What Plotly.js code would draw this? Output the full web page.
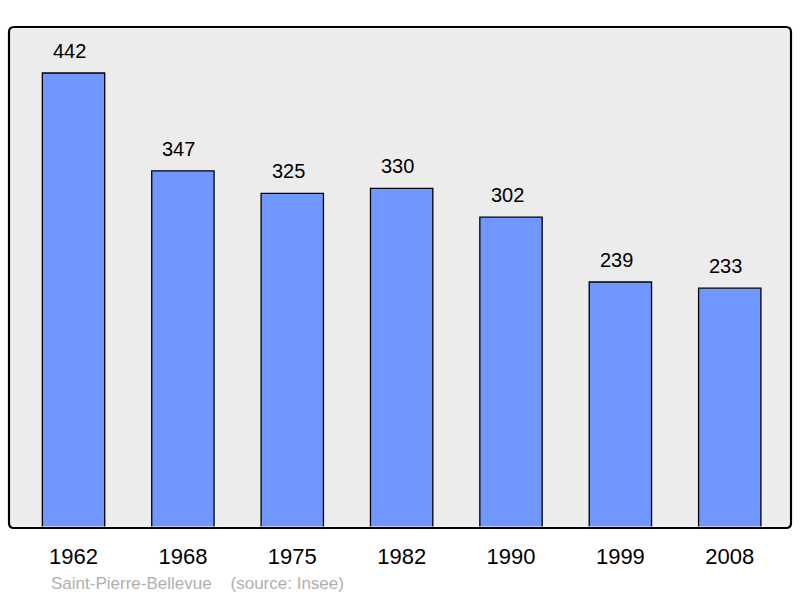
<!DOCTYPE html>
<html>
<head>
<meta charset="utf-8">
<script src="https://cdn.plot.ly/plotly-3.0.1.min.js"></script>
<style>body{margin:0;background:#fff}#chart{width:800px;height:598px}</style>
</head>
<body>
<div id="chart"></div>
<script>
const years = ["1962", "1968", "1975", "1982", "1990", "1999", "2008"];
const population = [442, 347, 325, 330, 302, 239, 233];
const footerName = "Saint-Pierre-Bellevue";
const footerSource = "(source: Insee)";

const idx = years.map((_, i) => i);
const FONT = "Liberation Sans, Arial, sans-serif";

const trace = {
  type: "bar",
  x: idx,
  y: population,
  width: 0.57,
  marker: {color: "#7097ff", line: {color: "#000", width: 1.3}},
  hoverinfo: "skip"
};

const annotations = idx.map(i => ({
  x: i, y: population[i], xref: "x", yref: "y",
  text: String(population[i]), showarrow: false,
  yanchor: "bottom", yshift: 9, xshift: -4,
  font: {family: FONT, size: 20, color: "#000"}
}));
annotations.push({
  xref: "paper", yref: "paper", x: 0.051, y: -0.111, xanchor: "left", yanchor: "middle",
  text: footerName + "    " + footerSource, showarrow: false,
  font: {family: FONT, size: 17, color: "#b0b0b0"}
});

// rounded border in paper coords
const W = 782, H = 501, r = 5;
const dx = r / W, dy = r / H;
const borderPath =
  `M ${dx},0 L ${1 - dx},0 Q 1,0 1,${dy} L 1,${1 - dy} Q 1,1 ${1 - dx},1 ` +
  `L ${dx},1 Q 0,1 0,${1 - dy} L 0,${dy} Q 0,0 ${dx},0 Z`;

const layout = {
  width: 800, height: 598,
  margin: {l: 9, r: 9, t: 27, b: 70},
  paper_bgcolor: "#ffffff",
  plot_bgcolor: "#ececec",
  showlegend: false,
  xaxis: {
    range: [-0.59, 6.56],
    tickmode: "array", tickvals: idx, ticktext: years,
    showgrid: false, zeroline: false, showline: false, ticks: "",
    tickfont: {family: FONT, size: 22, color: "#000"},
    ticklabelstandoff: 13
  },
  yaxis: {
    range: [0, 486.7],
    showgrid: false, zeroline: false, showline: false, showticklabels: false, ticks: ""
  },
  annotations: annotations,
  shapes: [
    {type: "rect", xref: "paper", yref: "paper", x0: 0, x1: 1, y0: 0, y1: 1,
     line: {color: "#ffffff", width: 3}, layer: "above"},
    {type: "path", xref: "paper", yref: "paper", path: borderPath,
     line: {color: "#000", width: 2.2}, layer: "above"}
  ]
};

Plotly.newPlot("chart", [trace], layout, {displayModeBar: false, staticPlot: true});
</script>
</body>
</html>
